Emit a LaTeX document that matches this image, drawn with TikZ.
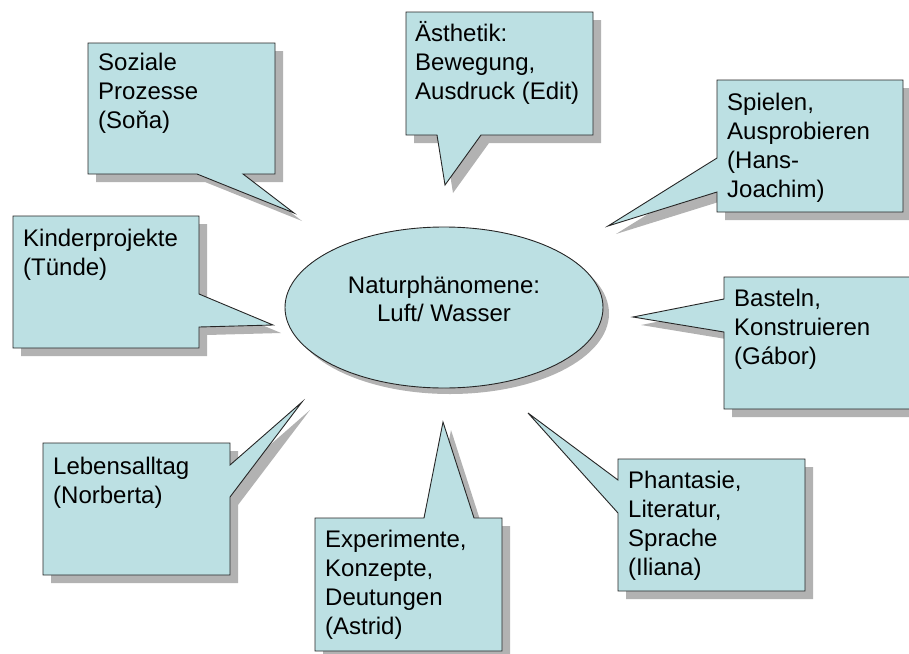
\documentclass[tikz,border=0pt]{standalone}
\usepackage{fontspec}
\setmainfont{Liberation Sans}
\usetikzlibrary{shadows,shapes.geometric}
\definecolor{bubblefill}{RGB}{188,224,227}
\definecolor{shadowgray}{RGB}{178,178,178}
\newcommand{\bubbletext}[1]{\parbox[t]{185pt}{\raggedright #1}}

\begin{document}
\begin{tikzpicture}[x=1pt,y=-1pt,
  bubble/.style={fill=bubblefill,draw=black!85,line width=0.9pt,line join=miter},
  bshadow/.style={drop shadow={shadow xshift=8pt,shadow yshift=-8pt,fill=shadowgray,opacity=1}},
  eshadow/.style={drop shadow={shadow xshift=6pt,shadow yshift=-6pt,fill=shadowgray,opacity=1}},
  txt/.style={anchor=base west,inner sep=0pt,font=\fontsize{24}{29}\selectfont}]
  \useasboundingbox (0,0) rectangle (909,653);
  % centre
  \node[ellipse,bubble,eshadow,minimum width=318pt,minimum height=161pt,inner sep=0pt] (natur) at (444,307.5) {};
  \node[inner sep=0pt,anchor=base,font=\fontsize{24}{28}\selectfont] (naturtext) at (444,293)
    {\parbox[t]{300pt}{\centering Naturphänomene:\\Luft/ Wasser}};
  % callouts
  \draw[bubble,bshadow] (88,43) -- (275,43) -- (275,174) -- (243,174) -- (294,213) -- (197,174) -- (88,174) -- cycle;
  \node[txt] (sozial) at (98,70) {\bubbletext{Soziale\\Prozesse\\(Soňa)}};
  \draw[bubble,bshadow] (406,12) -- (593,12) -- (593,135) -- (481,135) -- (445,185) -- (437,135) -- (406,135) -- cycle;
  \node[txt] (aesthetik) at (415,41) {\bubbletext{Ästhetik:\\Bewegung,\\Ausdruck (Edit)}};
  \draw[bubble,bshadow] (717,80) -- (903,80) -- (903,212) -- (717,212) -- (717,192) -- (608,226) -- (717,158) -- cycle;
  \node[txt] (spiel) at (727,110) {\bubbletext{Spielen,\\Ausprobieren\\(Hans-\\Joachim)}};
  \draw[bubble,bshadow] (13,216) -- (199,216) -- (199,294) -- (273,325) -- (199,327) -- (199,348) -- (13,348) -- cycle;
  \node[txt] (kinder) at (23,246) {\bubbletext{Kinderprojekte\\(Tünde)}};
  \draw[bubble,bshadow] (724,277) -- (911,277) -- (911,409) -- (724,409) -- (724,332) -- (633,317) -- (724,299) -- cycle;
  \node[txt] (basteln) at (734,306) {\bubbletext{Basteln,\\Konstruieren\\(Gábor)}};
  \draw[bubble,bshadow] (43,443) -- (230,443) -- (230,465) -- (302,402) -- (230,497) -- (230,575) -- (43,575) -- cycle;
  \node[txt] (alltag) at (53,474) {\bubbletext{Lebensalltag\\(Norberta)}};
  \draw[bubble,bshadow] (315,518) -- (424,518) -- (443,422) -- (474,518) -- (502,518) -- (502,651) -- (315,651) -- cycle;
  \node[txt] (experiment) at (325,547) {\bubbletext{Experimente,\\Konzepte,\\Deutungen\\(Astrid)}};
  \draw[bubble,bshadow] (618,459) -- (805,459) -- (805,591) -- (618,591) -- (618,513) -- (528,413) -- (618,480) -- cycle;
  \node[txt] (phantasie) at (628,488) {\bubbletext{Phantasie,\\Literatur,\\Sprache\\(Iliana)}};
\end{tikzpicture}
\end{document}
